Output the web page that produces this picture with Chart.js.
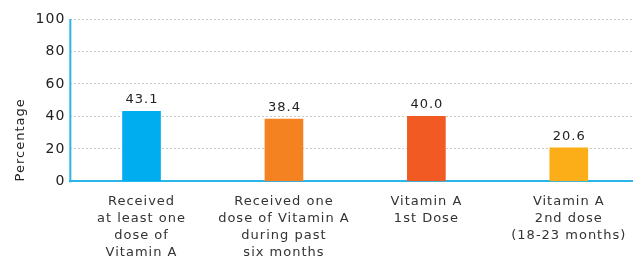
<!DOCTYPE html>
<html><head><meta charset="utf-8">
<script src="https://cdn.jsdelivr.net/npm/chart.js@4/dist/chart.umd.min.js"></script>
<style>html,body{margin:0;padding:0;overflow:hidden;background:#fff}#wrap{width:640px;height:261px}</style>
</head><body><div id="wrap"><canvas id="c"></canvas></div>
<script>
const categories = [
  ["Received","at least one","dose of","Vitamin A"],
  ["Received one","dose of Vitamin A","during past","six months"],
  ["Vitamin A","1st Dose"],
  ["Vitamin A","2nd dose","(18-23 months)"]
];
const values = [43.1, 38.4, 40.0, 20.6];
const valueLabels = ["43.1","38.4","40.0","20.6"];
const barColors = ["#00AEEF","#F58220","#F15A22","#FBAE17"];
const yTicks = [0,20,40,60,80,100];

const FONT = '"DejaVu Sans", Verdana, sans-serif';
const AXIS_COLOR = '#29B5E8';

const spacingPlugin = {
  id:'spacing',
  beforeUpdate(chart){ chart.ctx.letterSpacing = '1px'; },
  beforeLayout(chart){ chart.ctx.letterSpacing = '1px'; },
  beforeDraw(chart){ chart.ctx.letterSpacing = '1px'; }
};

const axisLinePlugin = {
  id:'yaxisline',
  afterDatasetsDraw(chart){
    const {ctx, chartArea} = chart;
    ctx.save();
    ctx.setLineDash([]);
    ctx.strokeStyle = AXIS_COLOR;
    ctx.lineWidth = 2;
    ctx.beginPath();
    ctx.moveTo(chartArea.left, chartArea.top);
    ctx.lineTo(chartArea.left, chartArea.bottom + 1);
    ctx.stroke();
    ctx.restore();
  }
};

const labelPlugin = {
  id:'vlabels',
  afterDatasetsDraw(chart){
    const ctx = chart.ctx;
    const meta = chart.getDatasetMeta(0);
    ctx.save();
    ctx.letterSpacing = '1px';
    ctx.font = '13px ' + FONT;
    ctx.fillStyle = '#222';
    ctx.textAlign = 'center';
    ctx.textBaseline = 'alphabetic';
    meta.data.forEach((el,i)=>{ ctx.fillText(valueLabels[i], el.x + 0.5, el.y - 8); });
    ctx.restore();
  }
};

new Chart(document.getElementById('c'), {
  type:'bar',
  data:{ labels: categories, datasets:[{ data: values, backgroundColor: barColors, barThickness: 38 }] },
  options:{
    responsive:true, maintainAspectRatio:false, animation:false,
    layout:{ padding:{ top:19, right:0, left:13, bottom:-12 } },
    plugins:{ legend:{display:false}, tooltip:{enabled:false} },
    scales:{
      x:{
        grid:{ display:false, drawTicks:false },
        border:{ color:AXIS_COLOR, width:2 },
        ticks:{ color:'#333', font:{ size:13, family:FONT, lineHeight:1.3 }, padding:12, maxRotation:0, autoSkip:false }
      },
      y:{
        min:0, max:100,
        afterBuildTicks(scale){ scale.ticks = yTicks.map(v=>({value:v})); },
        grid:{ color:'#cccccc', drawTicks:false, lineWidth:1 },
        border:{ display:false, color:AXIS_COLOR, width:2, dash:[2,2] },
        ticks:{ color:'#222', font:{ size:14, family:FONT }, padding:5 },
        title:{ display:true, text:'Percentage', align:'start', color:'#222', font:{ size:13, family:FONT }, padding:{top:0,bottom:2} }
      }
    }
  },
  plugins:[spacingPlugin, labelPlugin, axisLinePlugin]
});
</script>
</body></html>
